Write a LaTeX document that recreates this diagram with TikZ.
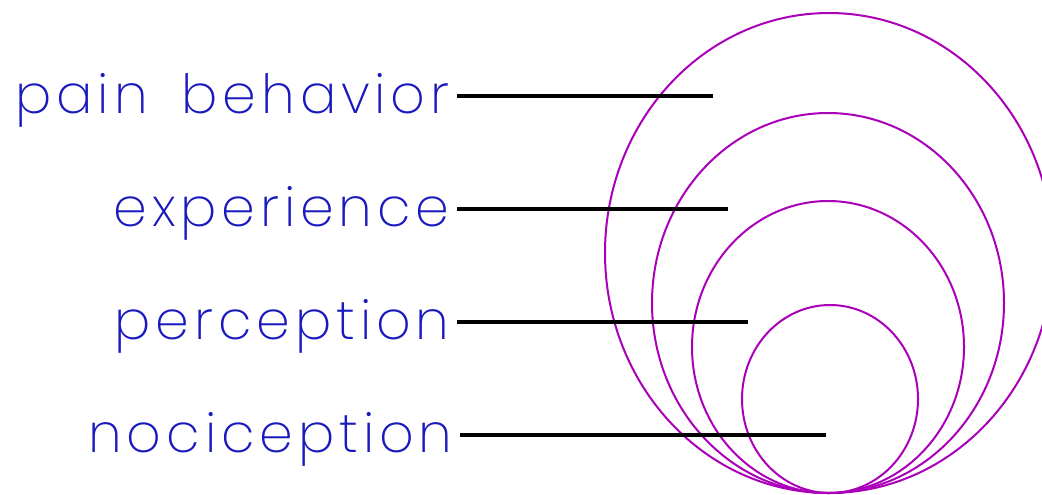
\documentclass[tikz,border=0pt]{standalone}
\usepackage{fontspec}
\usepackage{tikz}
\usetikzlibrary{positioning}
\newfontfamily\labelfont{Poppins ExtraLight}[LetterSpace=9]
\definecolor{labelblue}{RGB}{25,25,190}
\definecolor{ringpurple}{RGB}{170,0,185}

\begin{document}
\begin{tikzpicture}[
  x=0.5pt, y=-0.5pt,
  lbl/.style={anchor=east, font=\labelfont\fontsize{27}{30}\selectfont, text=labelblue,
              text height=23pt, text depth=6pt, inner xsep=3.5pt, inner ysep=0pt},
  bar/.style={line width=2.2pt, black},
  ring/.style={line width=1pt, draw=ringpurple}
]
\useasboundingbox (0,0) rectangle (1042,494);

% nested levels, all touching at the bottom
\draw[ring] (829,253) ellipse [x radius=224, y radius=240];
\draw[ring] (828,303) ellipse [x radius=176, y radius=190];
\draw[ring] (828,347) ellipse [x radius=136, y radius=146];
\draw[ring] (830,399) ellipse [x radius=88, y radius=94];

\node[lbl] (behav) at (457,96)  {pain\hspace{7pt} behavior};
\node[lbl] (exper) at (457,209) {experience};
\node[lbl] (perce) at (457,322) {perception};
\node[lbl] (noci)  at (460,435) {nociception};

\coordinate (behavEnd) at (713,96);
\coordinate (experEnd) at (728,209);
\coordinate (perceEnd) at (748,322);
\coordinate (nociEnd)  at (826,435);

\draw[bar] (behav) -- (behavEnd);
\draw[bar] (exper) -- (experEnd);
\draw[bar] (perce) -- (perceEnd);
\draw[bar] (noci) -- (nociEnd);
\end{tikzpicture}
\end{document}
